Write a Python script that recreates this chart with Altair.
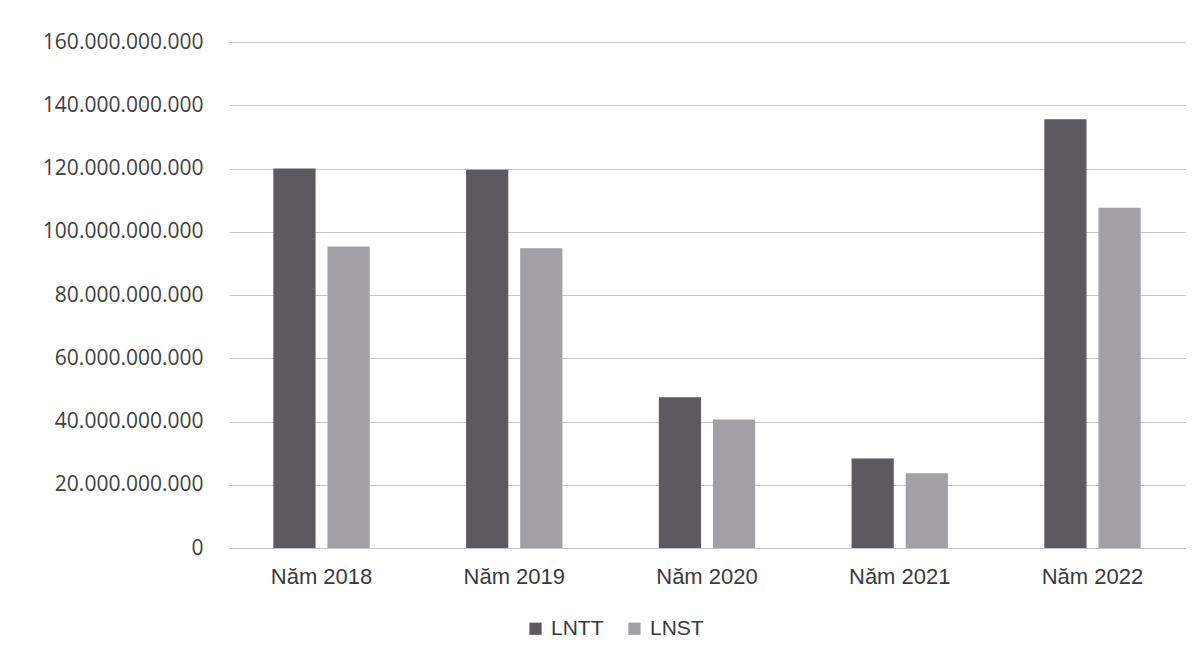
import altair as alt
import pandas as pd

years = ["Năm 2018", "Năm 2019", "Năm 2020", "Năm 2021", "Năm 2022"]
series = ["LNTT", "LNST"]
lntt = [120.0e9, 119.6e9, 47.7e9, 28.3e9, 135.6e9]
lnst = [95.3e9, 94.8e9, 40.6e9, 23.6e9, 107.6e9]
y_ticks = [0, 20e9, 40e9, 60e9, 80e9, 100e9, 120e9, 140e9, 160e9]
colors = ["#5d5960", "#a29fa5"]

rows = []
for i, y in enumerate(years):
    rows.append({"year": y, "series": "LNTT", "value": lntt[i]})
    rows.append({"year": y, "series": "LNST", "value": lnst[i]})
df = pd.DataFrame(rows)

chart = alt.Chart(df).mark_bar().encode(
    x=alt.X("year:N", sort=years, title=None,
            scale=alt.Scale(paddingInner=0.5, paddingOuter=0.23),
            axis=alt.Axis(labelAngle=0, ticks=False, domain=True, domainColor="#c4c4c4",
                          labelFont="Liberation Sans", labelFontSize=22, labelColor="#3a3a3a",
                          labelPadding=18)),
    xOffset=alt.XOffset("series:N", sort=series, scale=alt.Scale(paddingInner=0.22)),
    y=alt.Y("value:Q", title=None,
            scale=alt.Scale(domain=[0, 160e9]),
            axis=alt.Axis(values=y_ticks, ticks=False, domain=False, grid=True,
                          gridColor="#c4c4c4", gridWidth=1,
                          labelFont="Open Sans", labelFontSize=21, labelColor="#404040",
                          labelPadding=26,
                          labelExpr="replace(format(datum.value, ',.0f'), regexp(',', 'g'), '.')")),
    color=alt.Color("series:N", sort=series, title=None,
                    scale=alt.Scale(domain=series, range=colors),
                    legend=alt.Legend(orient="none", legendX=296, legendY=576, direction="horizontal",
                                      symbolType="square", symbolSize=150, symbolStrokeWidth=0,
                                      labelFont="Liberation Sans", labelFontSize=21, labelColor="#3a3a3a",
                                      labelOffset=5, columnPadding=20)),
).properties(
    width=956, height=506,
    autosize=alt.AutoSizeParams(type="none"),
    padding={"left": 221, "top": 34, "right": 8, "bottom": 104},
).configure(background="white").configure_view(stroke=None, strokeWidth=0)

chart.save("out.html", embed_options={"renderer": "svg", "actions": False})
